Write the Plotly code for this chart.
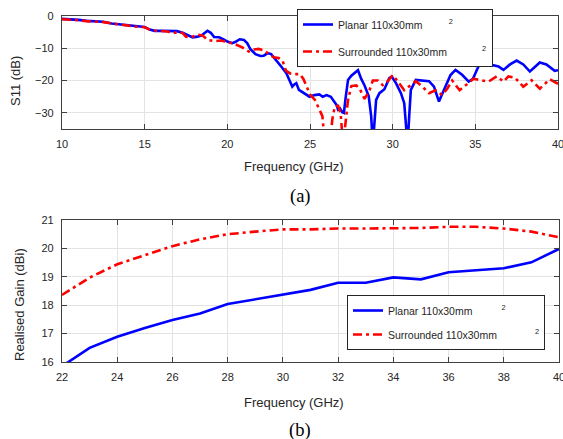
import plotly.graph_objects as go

# ---------------- data: (a) S11 ----------------
s11_planar_f = [10.0, 10.5, 11.0, 11.5, 12.0, 12.5, 13.0, 13.5, 14.0, 14.5, 15.0, 15.3, 15.6, 16.0, 16.5,
                16.95, 17.3, 17.6, 17.9, 18.2, 18.45, 18.8, 19.0, 19.2, 19.5, 19.8, 20.0, 20.3, 20.5, 20.75,
                21.0, 21.2, 21.4, 21.7, 22.0, 22.2, 22.45, 22.65, 22.95, 23.27, 23.57, 23.77, 23.93, 24.05,
                24.17, 24.33, 24.67, 24.97, 25.27, 25.57, 25.77, 26.0, 26.26, 26.46, 26.6, 26.7, 26.81, 26.95,
                27.05, 27.15, 27.3, 27.5, 27.7, 27.9, 28.1, 28.3, 28.55, 28.7, 28.8, 28.9, 29.0, 29.2, 29.5,
                29.8, 29.95, 30.2, 30.5, 30.7, 30.8, 30.9, 31.0, 31.1, 31.4, 31.8, 32.2, 32.5, 32.8, 33.1,
                33.5, 33.8, 34.2, 34.6, 34.85, 35.2, 35.8, 36.4, 36.7, 37.1, 37.5, 37.9, 38.3, 38.6, 38.9,
                39.3, 39.8, 40.0]
s11_planar = [-0.9, -1.0, -1.2, -1.5, -1.6, -1.8, -2.3, -2.6, -3.0, -3.1, -3.4, -4.2, -4.6, -4.6, -4.6,
              -4.7, -5.2, -5.8, -6.6, -6.4, -6.0, -4.6, -5.2, -6.5, -6.6, -7.3, -7.9, -8.4, -8.0, -7.2,
              -7.4, -8.4, -10.3, -11.8, -12.4, -12.3, -11.5, -11.8, -13.6, -15.7, -17.7, -19.8, -21.9, -21.2,
              -20.8, -22.9, -23.9, -25.0, -24.5, -24.3, -25.0, -24.5, -25.0, -26.5, -27.5, -29.0, -28.6, -29.8,
              -30.0, -25.5, -19.8, -18.5, -17.7, -16.8, -19.5, -21.5, -24.8, -31.0, -40.0, -31.0, -26.0, -23.9, -22.7,
              -19.2, -18.8, -20.8, -23.9, -27.0, -33.0, -40.0, -31.0, -22.9, -19.8, -20.0, -20.2, -21.9, -26.5, -22.9,
              -18.3, -16.7, -18.2, -20.3, -19.5, -15.5, -14.9, -15.6, -16.7, -15.0, -13.8, -15.0, -17.2, -15.8, -14.4,
              -15.0, -17.0, -16.8]

s11_surr_f = [10.0, 10.5, 11.0, 11.5, 12.0, 12.5, 13.0, 13.5, 14.0, 14.5, 15.0, 15.3, 15.6, 16.0, 16.4,
              16.7, 17.1, 17.3, 17.5, 17.8, 18.2, 18.5, 18.8, 19.2, 19.6, 20.1, 20.5, 20.9, 21.3, 21.6,
              21.9, 22.2, 22.5, 22.8, 23.1, 23.35, 23.55, 23.8, 24.1, 24.4, 24.6, 24.8, 25.0, 25.3, 25.55,
              25.75, 25.9, 26.2, 26.35, 26.5, 26.7, 26.85, 27.0, 27.15, 27.3, 27.5, 27.8, 28.0, 28.3, 28.6,
              28.8, 29.1, 29.4, 29.7, 30.0, 30.3, 30.7, 31.0, 31.4, 31.8, 32.2, 32.6, 33.0, 33.3, 33.6,
              34.05, 34.4, 34.9, 35.3, 35.8, 36.3, 36.7, 37.0, 37.4, 37.9, 38.4, 38.9, 39.5, 40.0]
s11_surr = [-1.0, -1.1, -1.3, -1.6, -1.7, -1.9, -2.3, -2.7, -3.1, -3.3, -3.5, -4.2, -4.5, -4.6, -4.8,
            -5.3, -4.9, -5.3, -6.4, -6.6, -5.8, -6.0, -7.4, -7.8, -7.6, -8.2, -8.8, -9.7, -11.0, -10.4,
            -10.2, -10.6, -11.8, -12.8, -13.0, -14.0, -17.0, -17.8, -18.0, -18.0, -19.5, -22.0, -24.3, -26.0, -28.5,
            -31.0, -40.0, -40.0, -32.0, -28.0, -27.8, -30.0, -40.0, -32.0, -26.0, -21.7, -21.5, -22.5, -25.7, -23.0,
            -20.0, -20.0, -21.4, -20.2, -18.3, -20.2, -23.0, -21.8, -20.2, -21.9, -23.9, -23.0, -24.5, -22.5, -20.0,
            -23.0, -21.5, -19.4, -19.9, -20.3, -18.7, -20.3, -18.7, -19.1, -21.9, -19.9, -22.5, -19.6, -21.0]

# ---------------- data: (b) Realised gain ----------------
gain_f = [22, 23, 24, 25, 26, 27, 28, 29, 30, 31, 32, 33, 34, 35, 36, 37, 38, 39, 40]
gain_planar = [15.85, 16.5, 16.89, 17.2, 17.48, 17.71, 18.04, 18.2, 18.36, 18.54, 18.79, 18.79, 18.98,
               18.91, 19.16, 19.22, 19.3, 19.51, 19.98]
gain_surr = [18.36, 18.97, 19.44, 19.77, 20.08, 20.32, 20.5, 20.59, 20.67, 20.67, 20.7, 20.7, 20.7,
             20.72, 20.76, 20.76, 20.7, 20.59, 20.39]

xticks_a = [10, 15, 20, 25, 30, 35, 40]
yticks_a = [0, -10, -20, -30]
xticks_b = [22, 24, 26, 28, 30, 32, 34, 36, 38, 40]
yticks_b = [16, 17, 18, 19, 20, 21]

NB = "\u00a0"
name_planar = "Planar 110x30mm"
name_surr = "Surrounded 110x30mm"

W, H = 563, 439
BLUE = "#0000ff"
RED = "#ff0000"
DASH = "9px,4px,3px,4px"
SANS = "Liberation Sans, Arial, sans-serif"
SERIF = "Liberation Serif, Times New Roman, serif"
AX = "#404040"
GRID = "#e3e3e3"


def px(x):
    return x / W


def py(y):
    return 1 - y / H


fig = go.Figure()
fig.add_trace(go.Scatter(x=s11_planar_f, y=s11_planar, mode="lines",
                         line=dict(color=BLUE, width=2.6),
                         name=name_planar + NB * 9 + "<sup>2</sup>", legend="legend", legendgroup="a1",
                         xaxis="x", yaxis="y"))
fig.add_trace(go.Scatter(x=s11_surr_f, y=s11_surr, mode="lines",
                         line=dict(color=RED, width=2.6, dash=DASH),
                         name=name_surr + NB * 12 + "<sup>2</sup>", legend="legend", legendgroup="a2",
                         xaxis="x", yaxis="y"))
fig.add_trace(go.Scatter(x=gain_f, y=gain_planar, mode="lines",
                         line=dict(color=BLUE, width=2.6),
                         name=name_planar + NB * 10 + "<sup>2</sup>", legend="legend2", legendgroup="b1",
                         xaxis="x2", yaxis="y2"))
fig.add_trace(go.Scatter(x=gain_f, y=gain_surr, mode="lines",
                         line=dict(color=RED, width=2.6, dash=DASH),
                         name=name_surr + NB * 13 + "<sup>2</sup>", legend="legend2", legendgroup="b2",
                         xaxis="x2", yaxis="y2"))

axis_common = dict(showline=True, linecolor=AX, linewidth=1.2, mirror="ticks", ticks="inside",
                   ticklen=5, tickcolor=AX, showgrid=True, gridcolor=GRID, gridwidth=1,
                   zeroline=False, tickfont=dict(family=SANS, size=11, color="#262626"),
                   automargin=False, ticklabelstandoff=5, ticklabeloverflow="allow")

fig.update_layout(
    width=W, height=H,
    margin=dict(l=0, r=0, t=0, b=0),
    paper_bgcolor="white", plot_bgcolor="white",
    xaxis=dict(domain=[px(62), px(558)], range=[10, 40], tickvals=xticks_a, anchor="y", **axis_common),
    yaxis=dict(domain=[py(129), py(16)], range=[-35, 0], tickvals=yticks_a, anchor="x", **axis_common),
    xaxis2=dict(domain=[px(62), px(559)], range=[22, 40], tickvals=xticks_b, anchor="y2", **axis_common),
    yaxis2=dict(domain=[py(362), py(220)], range=[16, 21], tickvals=yticks_b, anchor="x2", **axis_common),
    legend=dict(x=px(297), y=py(9), xanchor="left", yanchor="top", bgcolor="white",
                bordercolor="#262626", borderwidth=1, itemwidth=30, tracegroupgap=8,
                font=dict(family=SANS, size=10.5, color="#262626")),
    legend2=dict(x=px(347), y=py(295), xanchor="left", yanchor="top", bgcolor="white",
                 bordercolor="#262626", borderwidth=1, itemwidth=30, tracegroupgap=5,
                 font=dict(family=SANS, size=10.5, color="#262626")),
    showlegend=True,
)

ann = []
ann.append(dict(text="S11 (dB)", x=px(15), y=py(81), textangle=-90))
ann.append(dict(text="Realised Gain (dBi)", x=px(19), y=py(305), textangle=-90))
ann.append(dict(text="Frequency (GHz)", x=px(294), y=py(167)))
ann.append(dict(text="Frequency (GHz)", x=px(294), y=py(402)))
for a in ann:
    a.update(xref="paper", yref="paper", showarrow=False, xanchor="center", yanchor="middle",
             font=dict(family=SANS, size=13, color="#262626"))
ann.append(dict(text="(a)", x=px(300), y=py(196), xref="paper", yref="paper", showarrow=False,
                xanchor="center", yanchor="middle", font=dict(family=SERIF, size=18.5, color="black")))
ann.append(dict(text="(b)", x=px(300), y=py(430), xref="paper", yref="paper", showarrow=False,
                xanchor="center", yanchor="middle", font=dict(family=SERIF, size=18.5, color="black")))
fig.update_layout(annotations=ann)

# remove the default page margin so the 563x439 figure fills the window exactly
fig.write_html("out.html", config={"displayModeBar": False},
               post_script="document.body.style.margin='0';document.body.style.overflow='hidden';")
